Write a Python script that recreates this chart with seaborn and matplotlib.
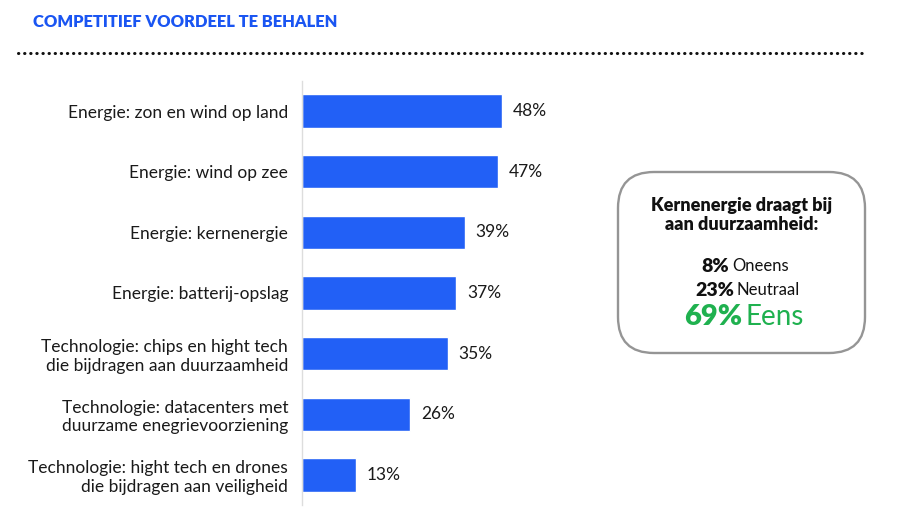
import matplotlib
matplotlib.use("Agg")
import matplotlib.pyplot as plt
from matplotlib.patches import FancyBboxPatch
from matplotlib.lines import Line2D
import seaborn as sns
import pandas as pd

# ── data ──
categories = [
    "Energie: zon en wind op land",
    "Energie: wind op zee",
    "Energie: kernenergie",
    "Energie: batterij-opslag",
    "Technologie: chips en hight tech\ndie bijdragen aan duurzaamheid",
    "Technologie: datacenters met\nduurzame enegrievoorziening",
    "Technologie: hight tech en drones\ndie bijdragen aan veiligheid",
]
values = [48, 47, 39, 37, 35, 26, 13]

title = "COMPETITIEF VOORDEEL TE BEHALEN"
box_title = "Kernenergie draagt bij\naan duurzaamheid:"
box_pct = ["8%", "23%", "69%"]
box_lbl = ["Oneens", "Neutraal", "Eens"]

BLUE = "#2260f6"
TITLE_BLUE = "#1a55f2"
GREEN = "#1fb14f"

sns.set_theme(style="white")
plt.rcParams["font.family"] = ["Lato", "DejaVu Sans"]

df = pd.DataFrame({"cat": categories, "val": values})

fig = plt.figure(figsize=(9, 5.26), dpi=100)
ax = fig.add_axes([0.3356, 0.0394, 0.2778, 0.8072])

sns.barplot(data=df, y="cat", x="val", orient="h", color=BLUE,
            saturation=1, width=0.55, ax=ax)
ax.set_xlim(0, 60)
ax.set_ylim(6.5, -0.5)
ax.set_xlabel("")
ax.set_ylabel("")
ax.set_xticks([])
ax.tick_params(axis="y", length=0, pad=10, labelsize=12.5, labelcolor="#1a1a1a")
for lbl in ax.get_yticklabels():
    lbl.set_horizontalalignment("right")
for s in ["top", "right", "bottom"]:
    ax.spines[s].set_visible(False)
ax.spines["left"].set_color("#dddddd")
ax.spines["left"].set_linewidth(1)

for p, v in zip(ax.patches, values):
    ax.text(p.get_width() + 2.6, p.get_y() + p.get_height() / 2, f"{v}%",
            va="center", ha="left", fontsize=12.5, color="#1a1a1a")

# title and dotted rule
fig.text(33 / 900, 1 - 22 / 526, title, color=TITLE_BLUE, fontsize=11.9,
         fontweight="heavy", va="center", ha="left")
fig.add_artist(Line2D([18 / 900, 865 / 900], [1 - 53 / 526] * 2,
                      transform=fig.transFigure, color="#111111",
                      linestyle=(0, (0.1, 1.9)), linewidth=2.2,
                      dash_capstyle="round"))

# side box
box = FancyBboxPatch((618 / 900, 1 - 353 / 526), 247 / 900, 181 / 526,
                     boxstyle="round,pad=0,rounding_size=0.04",
                     transform=fig.transFigure, facecolor="white",
                     edgecolor="#959595", linewidth=1.7,
                     mutation_aspect=900 / 526)
fig.add_artist(box)
fig.text(742 / 900, 1 - 215 / 526, box_title, ha="center", va="center",
         fontsize=13, fontweight="heavy", color="#111111", linespacing=1.2)

rows = [(266, 729, 14, 12, "#111111"),
        (290, 734, 14, 12, "#111111"),
        (317, 742, 21, 20, GREEN)]
for (y, xs, fs_b, fs_r, col), pct, lab in zip(rows, box_pct, box_lbl):
    fig.text(xs / 900, 1 - y / 526, pct, ha="right", va="center",
             fontsize=fs_b, fontweight="heavy", color=col)
    fig.text((xs + 3) / 900, 1 - y / 526, lab, ha="left", va="center",
             fontsize=fs_r, color=col)

fig.savefig("out.png", dpi=100)
